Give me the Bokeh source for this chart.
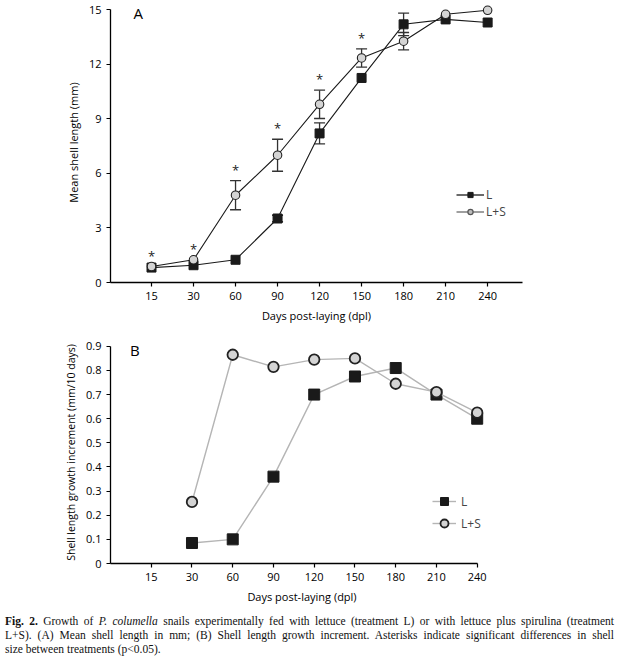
from bokeh.plotting import figure
from bokeh.models import (FixedTicker, Whisker, TeeHead, ColumnDataSource, Legend,
                          LegendItem, Label, Div, NumeralTickFormatter)
from bokeh.layouts import column
from bokeh.core.properties import value
from bokeh.embed import file_html
from bokeh.resources import INLINE

# ---------------- data ----------------
days = ["15", "30", "60", "90", "120", "150", "180", "210", "240"]
len_L = [0.82, 0.95, 1.25, 3.52, 8.2, 11.25, 14.2, 14.47, 14.3]
len_LS = [0.88, 1.25, 4.8, 7.0, 9.8, 12.35, 13.27, 14.75, 14.97]
se_L = [0, 0, 0, 0.18, 0.58, 0, 0.62, 0, 0]
se_LS = [0, 0, 0.8, 0.88, 0.78, 0.5, 0.48, 0, 0]
signif = [True, True, True, True, True, True, False, False, False]

inc_days = ["30", "60", "90", "120", "150", "180", "210", "240"]
inc_L = [0.085, 0.10, 0.36, 0.70, 0.775, 0.81, 0.70, 0.60]
inc_LS = [0.255, 0.865, 0.815, 0.845, 0.85, 0.745, 0.71, 0.625]

FONT = "Open Sans"
BLACK = "#1a1a1a"
GRAYFILL = "#d4d4d4"
NAN = float("nan")


def style(p):
    p.outline_line_color = None
    p.grid.visible = False
    for ax in (p.xaxis[0], p.yaxis[0]):
        ax.axis_line_width = 1.3
        ax.axis_line_color = "black"
        ax.major_tick_line_color = "black"
        ax.major_tick_line_width = 1.2
        ax.major_tick_out = 4
        ax.major_tick_in = 0
        ax.minor_tick_line_color = None
        ax.major_label_text_font = FONT
        ax.major_label_text_font_size = "11px"
        ax.major_label_text_color = "black"
        ax.axis_label_text_font = FONT
        ax.axis_label_text_font_style = "normal"
        ax.axis_label_text_font_size = "11px"
        ax.axis_label_text_color = "black"
        ax.axis_label_standoff = 5


xi = list(range(len(days)))
overrides = {i: d for i, d in enumerate(days)}

# ---------------- panel A ----------------
pA = figure(frame_width=412, frame_height=280, x_range=(-0.976, 8.83), y_range=(0, 15.4),
            min_border_left=110, min_border_right=87, min_border_top=2, min_border_bottom=34,
            output_backend="svg", toolbar_location=None)
style(pA)
pA.xaxis.ticker = FixedTicker(ticks=xi)
pA.xaxis.major_label_overrides = overrides
pA.yaxis.ticker = FixedTicker(ticks=[0, 3, 6, 9, 12, 15])
pA.yaxis.bounds = (0, 15)
pA.xaxis.axis_label = "Days post-laying (dpl)"
pA.yaxis.axis_label = "Mean shell length (mm)"

for vals, se in ((len_L, se_L), (len_LS, se_LS)):
    ix = [i for i in xi if se[i] > 0]
    src = ColumnDataSource(dict(x=ix, upper=[vals[i] + se[i] for i in ix],
                                lower=[vals[i] - se[i] for i in ix]))
    pA.add_layout(Whisker(source=src, base="x", upper="upper", lower="lower",
                          line_color="#333333", line_width=1.3,
                          upper_head=TeeHead(size=11, line_color="#333333", line_width=1.3),
                          lower_head=TeeHead(size=11, line_color="#333333", line_width=1.3)))

pA.line(xi, len_L, line_color=BLACK, line_width=1.1)
pA.scatter(xi, len_L, marker="square", size=9, fill_color=BLACK, line_color=BLACK)
pA.line(xi, len_LS, line_color=BLACK, line_width=1.1)
pA.scatter(xi, len_LS, marker="circle", size=8.5, fill_color=GRAYFILL, line_color="#222222",
           line_width=1.1)

sx = [i for i in xi if signif[i]]
sy = [max(len_L[i] + se_L[i], len_LS[i] + se_LS[i]) for i in sx]
pA.text(x=sx, y=sy, text=["*"] * len(sx), text_align="center", text_baseline="middle",
        y_offset=-11, text_font=value(FONT), text_font_size="13px", text_color="#222222")

pA.add_layout(Label(x=-0.43, y=14.84, text="A", text_font=FONT, text_font_size="15px",
                    text_baseline="middle", text_align="left", text_color="black"))

# legend-only renderers (a single NaN point, never visible in the plot)
lgA1 = pA.line([NAN], [NAN], line_color=BLACK, line_width=1.3)
lgA1m = pA.scatter([NAN], [NAN], marker="square", size=9, fill_color=BLACK, line_color=BLACK)
lgA2 = pA.line([NAN], [NAN], line_color="#888888", line_width=1.6)
lgA2m = pA.scatter([NAN], [NAN], marker="circle", size=8, fill_color="#bdbdbd",
                   line_color="#555555", line_width=1.2)
legA = Legend(items=[LegendItem(label="L", renderers=[lgA1, lgA1m]),
                     LegendItem(label="L+S", renderers=[lgA2, lgA2m])],
              location=(346, 62), padding=0, margin=0, spacing=0, glyph_width=28,
              glyph_height=13, label_standoff=2, label_text_font=FONT,
              label_text_font_size="12px", label_height=13, border_line_color=None,
              background_fill_alpha=0)
pA.add_layout(legA)

# ---------------- panel B ----------------
bx = [days.index(d) for d in inc_days]
pB = figure(frame_width=383, frame_height=222, x_range=(-1, 8.4), y_range=(0, 0.92),
            min_border_left=110, min_border_right=116, min_border_top=16, min_border_bottom=40,
            output_backend="svg", toolbar_location=None)
style(pB)
pB.xaxis.ticker = FixedTicker(ticks=xi)
pB.xaxis.major_label_overrides = overrides
pB.xaxis.bounds = (-1, 8)
pB.yaxis.ticker = FixedTicker(ticks=[0, 0.1, 0.2, 0.3, 0.4, 0.5, 0.6, 0.7, 0.8, 0.9])
pB.yaxis.formatter = NumeralTickFormatter(format="0.[0]")
pB.yaxis.bounds = (0, 0.9)
pB.xaxis.axis_label = "Days post-laying (dpl)"
pB.yaxis.axis_label = "Shell length growth increment (mm/10 days)"
pB.yaxis.axis_label_text_font_size = "10.5px"

lB1 = pB.line(bx, inc_L, line_color="#b5b5b5", line_width=1.4)
mB1 = pB.scatter(bx, inc_L, marker="square", size=11, fill_color=BLACK, line_color=BLACK)
lB2 = pB.line(bx, inc_LS, line_color="#b5b5b5", line_width=1.4)
mB2 = pB.scatter(bx, inc_LS, marker="circle", size=10.5, fill_color=GRAYFILL,
                 line_color="#222222", line_width=1.8)

pB.add_layout(Label(x=-0.52, y=0.885, text="B", text_font=FONT, text_font_size="15px",
                    text_baseline="middle", text_align="left", text_color="black"))

legB = Legend(items=[LegendItem(label="L", renderers=[lB1, mB1]),
                     LegendItem(label="L+S", renderers=[lB2, mB2])],
              location=(322, 30), padding=0, margin=0, spacing=2, glyph_width=24,
              glyph_height=20, label_standoff=5, label_text_font=FONT,
              label_text_font_size="12px", label_height=20, border_line_color=None,
              background_fill_alpha=0)
pB.add_layout(legB)

# ---------------- caption ----------------
js = "text-align: justify; text-align-last: justify; white-space: nowrap;"
cap = (
    '<div style="font-family: \'Liberation Serif\', serif; font-size: 11.5px; '
    'line-height: 14px; color: #111; width: 609px;">'
    f'<div style="{js}"><b>Fig. 2.</b> Growth of <i>P. columella</i> snails experimentally fed '
    'with lettuce (treatment L) or with lettuce plus spirulina (treatment</div>'
    f'<div style="{js}">L+S). (A) Mean shell length in mm; (B) Shell length growth increment. '
    'Asterisks indicate significant differences in shell</div>'
    '<div>size between treatments (p&lt;0.05).</div></div>'
)
div = Div(text=cap, width=609, height=46, styles={"margin-top": "8px"})

layout = column(pA, pB, div)
open("out.html", "w").write(file_html(layout, INLINE))
